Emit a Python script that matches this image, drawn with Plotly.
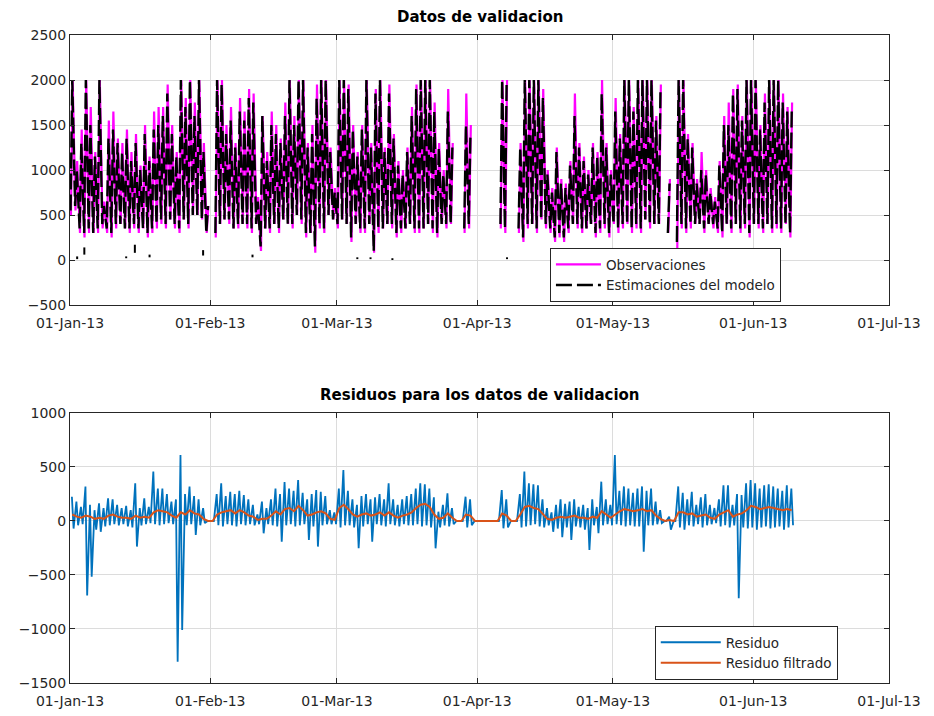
import pandas as pd
import plotly.graph_objects as go

# ---------------------------------------------------------------------------
# Validation data, one day per entry starting 01-Jan-2013 (None = no data)
# ---------------------------------------------------------------------------
start_date = "2013-01-01"
n_days = 160

obs_hi = [2000, 1100, 1450, 2000, 1700, 1200, 2000, 650, 1550, 1650,
          1350, 1300, 1450, 1200, 1400, 1050, 1500, 1150, 1650, 1700,
          1700, 1950, 1500, 1200, 2000, 1800, 2000, 1750, 2000, 1300,
          600, None, 2000, 2000, 1500, 1700, 1300, 1800, 1650, 1900,
          1850, 700, 1600, 1200, 1650, 1500, 1350, 1750, 2000, 1600,
          2000, 2000, 1300, 1500, 1950, 2000, 2000, 1250, 800, 2000,
          2000, 1950, 1500, 1200, 1500, 2000, 1300, 1900, 2000, 1250,
          1950, 1400, 1100, 1000, 1250, 1700, 1950, 2000, 2000, 2000,
          1750, 1300, 1000, 1900, 1300, None, None, 1850, 1500, None,
          None, None, None, None, None, 2000, 2000, None, None, 1300,
          2000, 2000, 2000, 2000, 1900, 1000, 800, 1250, 900, 850,
          1100, 1850, 1300, 1150, 1000, 1300, 1200, 2000, 1300, 1000,
          1800, 1400, 2000, 2000, 1700, 2000, 2000, 2000, 2000, 1600,
          1950, None, 900, None, 2000, 2000, 1400, 1300, 900, 1200,
          1000, 800, 700, 1100, 1600, 1750, 1900, 1950, 1600, 2000,
          2000, 2000, 1500, 1850, 2000, 2000, 2000, 1850, 1700, 1750]

obs_lo = [500, 550, 300, 250, 300, 300, 300, 350, 300, 250,
          350, 400, 350, 300, 350, 300, 350, 250, 300, 350,
          400, 350, 450, 350, 300, 450, 350, 500, 500, 450,
          300, None, 250, 400, 450, 400, 350, 350, 400, 350,
          300, 400, 100, 350, 300, 400, 300, 450, 400, 350,
          500, 400, 250, 300, 80, 350, 300, 500, 450, 350,
          450, 400, 200, 400, 300, 300, 400, 80, 300, 350,
          400, 350, 250, 300, 350, 400, 300, 300, 350, 400,
          300, 250, 400, 350, 400, None, None, 300, 350, None,
          None, None, None, None, None, 350, 300, None, None, 300,
          200, 350, 400, 300, 450, 350, 300, 200, 250, 200,
          300, 400, 350, 300, 350, 400, 250, 300, 350, 250,
          400, 300, 350, 400, 300, 350, 300, 450, 350, 400,
          400, None, 300, None, 100, 350, 300, 350, 400, 400,
          300, 400, 350, 300, 250, 400, 300, 400, 300, 350,
          250, 400, 350, 300, 400, 300, 350, 300, 400, 250]

est_hi = [2000, 1000, 1300, 2000, 1500, 1150, 2000, 600, 1350, 1450,
          1300, 1200, 1350, 1100, 1300, 1000, 1400, 1100, 1450, 1500,
          1600, 1850, 1400, 1150, 2000, 1700, 2000, 1600, 2000, 1200,
          600, None, 2000, 1950, 1400, 1550, 1250, 1650, 1550, 1800,
          1750, 650, 1600, 1100, 1500, 1400, 1300, 1600, 2000, 1500,
          2000, 2000, 1250, 1400, 1800, 2000, 2000, 1200, 750, 2000,
          2000, 1900, 1450, 1150, 1450, 2000, 1250, 1850, 2000, 1200,
          1850, 1350, 1050, 950, 1200, 1600, 1900, 2000, 2000, 2000,
          1650, 1250, 950, 1650, 1250, None, None, 1500, 1400, None,
          None, None, None, None, None, 2000, 2000, None, None, 1250,
          2000, 2000, 2000, 2000, 1800, 950, 750, 1200, 850, 800,
          1050, 1600, 1250, 1100, 950, 1250, 1150, 1850, 1250, 950,
          1650, 1350, 2000, 2000, 1650, 2000, 2000, 2000, 2000, 1550,
          1900, None, 850, None, 2000, 2000, 1350, 1250, 850, 1000,
          950, 750, 650, 1050, 1500, 1500, 1850, 1900, 1550, 2000,
          2000, 2000, 1450, 1750, 2000, 2000, 2000, 1750, 1650, 1650]

est_lo = [550, 600, 350, 300, 350, 300, 350, 400, 350, 300,
          400, 400, 350, 350, 400, 350, 350, 300, 350, 400,
          450, 400, 450, 400, 350, 450, 400, 500, 500, 450,
          300, None, 300, 400, 450, 450, 350, 400, 400, 400,
          350, 400, 150, 350, 350, 400, 350, 450, 400, 400,
          500, 450, 300, 300, 150, 400, 350, 500, 450, 400,
          450, 400, 250, 400, 350, 350, 400, 100, 350, 350,
          400, 400, 300, 350, 350, 400, 350, 350, 350, 400,
          350, 300, 400, 400, 400, None, None, 350, 400, None,
          None, None, None, None, None, 400, 350, None, None, 350,
          250, 400, 400, 350, 450, 400, 350, 250, 300, 250,
          350, 400, 400, 350, 350, 400, 300, 350, 400, 300,
          400, 350, 400, 400, 350, 400, 350, 450, 400, 400,
          400, None, 300, None, 200, 400, 350, 400, 400, 400,
          350, 400, 400, 350, 300, 400, 350, 400, 350, 400,
          300, 400, 400, 350, 400, 350, 400, 350, 400, 300]

# Isolated low readings between missing stretches: time, low, high
iso_times = ["2013-01-02 14:00", "2013-01-04 04:00", "2013-01-13 10:00",
             "2013-01-15 08:00", "2013-01-18 14:00", "2013-01-30 10:00",
             "2013-02-10 08:00", "2013-03-05 12:00", "2013-03-08 10:00",
             "2013-03-13 06:00", "2013-04-07 14:00"]
iso_lo = [10, 60, 20, 80, 30, 50, 30, 10, 10, 0, 10]
iso_hi = [40, 140, 40, 170, 60, 110, 60, 30, 30, 20, 30]

# Residuals (observation - model), daily high / low and filtered residual
res_hi = [225, 180, 130, 318, 150, 100, 164, 120, 210, 200,
          150, 120, 140, 100, 349, 120, 210, 130, 457, 300,
          300, 250, 180, 200, 611, 250, 318, 230, 200, 120,
          0, 0, 250, 349, 230, 270, 250, 280, 240, 200,
          150, 60, 180, 120, 200, 300, 250, 360, 300, 280,
          380, 260, 200, 250, 287, 270, 230, 100, 80, 300,
          472, 280, 200, 150, 230, 250, 200, 220, 250, 200,
          349, 200, 150, 200, 230, 250, 300, 350, 340, 300,
          220, 86, 150, 256, 120, 0, 0, 225, 200, 0,
          0, 0, 0, 0, 0, 287, 200, 0, 0, 250,
          457, 350, 340, 330, 200, 120, 80, 150, 200, 160,
          180, 200, 130, 150, 120, 200, 130, 364, 200, 150,
          611, 280, 320, 300, 260, 300, 320, 280, 300, 180,
          100, 0, 40, 0, 320, 260, 200, 270, 150, 220,
          250, 150, 120, 200, 330, 330, 150, 250, 240, 349,
          380, 350, 300, 330, 340, 320, 300, 280, 330, 300]

res_lo = [-70, -40, -30, -690, -515, -80, -100, -50, -40, -30,
          -40, -30, -50, -60, -237, -40, -30, -20, -30, -40,
          -30, -20, -30, -1302, -1009, -40, -30, -130, -40, -20,
          0, 0, -40, -50, -30, -40, -50, -30, -40, -30,
          -40, -30, -114, -30, -40, -50, -191, -40, -30, -50,
          -40, -30, -176, -50, -237, -40, -30, -30, -30, -60,
          -40, -40, -60, -253, -50, -30, -191, -30, -40, -50,
          -30, -40, -50, -30, -40, -40, -30, -50, -40, -60,
          -253, -60, -40, -50, -30, 0, 0, -60, -40, 0,
          0, 0, 0, 0, 0, -68, -60, 0, 0, -60,
          -50, -40, -30, -50, -60, -40, -100, -70, -150, -60,
          -176, -50, -60, -80, -268, -40, -114, -40, -30, -40,
          -30, -40, -50, -40, -50, -50, -284, -40, -40, -30,
          -20, 0, -80, 0, -60, -80, -40, -50, -30, -60,
          -40, -30, -20, -50, -40, -60, -40, -716, -60, -70,
          -60, -80, -60, -50, -70, -60, -50, -80, -60, -40]

res_filt = [60, 40, 30, 50, 40, 20, 30, 20, 50, 60,
            40, 30, 30, 20, 50, 30, 40, 30, 80, 100,
            90, 80, 50, 30, 80, 60, 100, 70, 60, 20,
            0, 0, 60, 80, 90, 100, 70, 100, 80, 50,
            40, 10, 20, 20, 50, 90, 60, 110, 120, 90,
            140, 100, 50, 60, 80, 90, 70, 20, 10, 120,
            150, 110, 60, 40, 60, 70, 50, 60, 80, 50,
            80, 50, 30, 50, 60, 80, 120, 150, 160, 130,
            60, 20, 30, 70, 30, 0, 0, 60, 50, 0,
            0, 0, 0, 0, 0, 70, 50, 0, 0, 60,
            130, 140, 120, 110, 60, 20, 10, 30, 40, 30,
            40, 50, 30, 30, 20, 40, 30, 90, 60, 30,
            60, 90, 110, 100, 90, 100, 110, 90, 100, 50,
            20, 0, 10, 0, 80, 80, 60, 70, 40, 50,
            60, 30, 20, 60, 80, 100, 40, 60, 70, 100,
            140, 130, 110, 120, 130, 120, 110, 100, 110, 100]

month_ticks = ["2013-01-01", "2013-02-01", "2013-03-01", "2013-04-01",
               "2013-05-01", "2013-06-01", "2013-07-01"]
month_labels = ["01-Jan-13", "01-Feb-13", "01-Mar-13", "01-Apr-13",
                "01-May-13", "01-Jun-13", "01-Jul-13"]

# ---------------------------------------------------------------------------
days = pd.date_range(start_date, periods=n_days, freq="D")


def daily_path(first, second, h_first, h_second):
    """Two readings per day joined into one continuous path; None breaks it."""
    xs, ys = [], []
    for day, a, b in zip(days, first, second):
        if a is None or b is None:
            xs.append(day + pd.Timedelta(hours=12))
            ys.append(None)
            continue
        xs += [day + pd.Timedelta(hours=h_first), day + pd.Timedelta(hours=h_second)]
        ys += [a, b]
    return xs, ys


obs_x, obs_y = daily_path(obs_lo, obs_hi, 5, 14)
est_x, est_y = daily_path(est_lo, est_hi, 3, 12)
res_x, res_y = daily_path(res_hi, res_lo, 10, 19)
filt_x = [d + pd.Timedelta(hours=12) for d in days]

iso_x, iso_y = [], []
for t, lo, hi in zip(iso_times, iso_lo, iso_hi):
    iso_x += [t, t, None]
    iso_y += [lo, hi, None]

MAGENTA = "#FF00FF"
BLUE = "#0072BD"
ORANGE = "#D95319"
INK = "#262626"
FONT = "DejaVu Sans, Verdana, sans-serif"

fig = go.Figure()

fig.add_trace(go.Scatter(x=obs_x, y=obs_y, mode="lines", name="Observaciones",
                         line=dict(color=MAGENTA, width=2.2),
                         xaxis="x", yaxis="y", legend="legend"))
fig.add_trace(go.Scatter(x=est_x, y=est_y, mode="lines", name="Estimaciones del modelo",
                         line=dict(color="black", width=2.4, dash="16px,5px"),
                         xaxis="x", yaxis="y", legend="legend"))
fig.add_trace(go.Scatter(x=iso_x, y=iso_y, mode="lines", showlegend=False,
                         line=dict(color="black", width=2),
                         xaxis="x", yaxis="y"))

fig.add_trace(go.Scatter(x=res_x, y=res_y, mode="lines", name="Residuo",
                         line=dict(color=BLUE, width=1.8),
                         xaxis="x2", yaxis="y2", legend="legend2"))
fig.add_trace(go.Scatter(x=filt_x, y=res_filt, mode="lines", name="Residuo filtrado",
                         line=dict(color=ORANGE, width=2),
                         xaxis="x2", yaxis="y2", legend="legend2"))

common_x = dict(range=["2013-01-01", "2013-07-01"], tickmode="array",
                tickvals=month_ticks, ticktext=month_labels,
                showgrid=True, gridcolor="#DCDCDC", gridwidth=1,
                showline=True, linecolor=INK, linewidth=1, mirror="ticks",
                ticks="inside", ticklen=5, tickcolor=INK, ticklabelstandoff=5,
                automargin=False,
                tickfont=dict(family=FONT, size=14, color=INK), zeroline=False)
common_y = dict(showgrid=True, gridcolor="#DCDCDC", gridwidth=1,
                showline=True, linecolor=INK, linewidth=1, mirror="ticks",
                ticks="inside", ticklen=5, tickcolor=INK, automargin=False,
                tickfont=dict(family=FONT, size=14, color=INK), zeroline=False)

legend_style = dict(bgcolor="white", bordercolor=INK, borderwidth=1,
                    font=dict(family=FONT, size=13.5, color=INK),
                    xanchor="left", yanchor="top", tracegroupgap=0)

fig.update_layout(
    width=934, height=716,
    margin=dict(l=70, r=45, t=35, b=33, autoexpand=False),
    paper_bgcolor="white", plot_bgcolor="white",
    font=dict(family=FONT, color=INK),
    xaxis=dict(domain=[0, 1], anchor="y", **common_x),
    yaxis=dict(domain=[0.5833, 1], anchor="x", range=[-500, 2500],
               tickvals=[-500, 0, 500, 1000, 1500, 2000, 2500], **common_y),
    xaxis2=dict(domain=[0, 1], anchor="y2", **common_x),
    yaxis2=dict(domain=[0, 0.4167], anchor="x2", range=[-1500, 1000],
                tickvals=[-1500, -1000, -500, 0, 500, 1000], **common_y),
    legend=dict(x=0.586, y=0.671, itemwidth=45, **legend_style),
    legend2=dict(x=0.714, y=0.088, itemwidth=60, **legend_style),
    annotations=[
        dict(text="<b>Datos de validacion</b>", x=0.5, y=1.028, xref="paper", yref="paper",
             xanchor="center", yanchor="middle", showarrow=False,
             font=dict(family=FONT, size=15, color="black")),
        dict(text="<b>Residuos para los datos de validacion</b>", x=0.5, y=0.4444,
             xref="paper", yref="paper", xanchor="center", yanchor="middle",
             showarrow=False, font=dict(family=FONT, size=15, color="black")),
    ],
)

fig.write_html("out.html")
